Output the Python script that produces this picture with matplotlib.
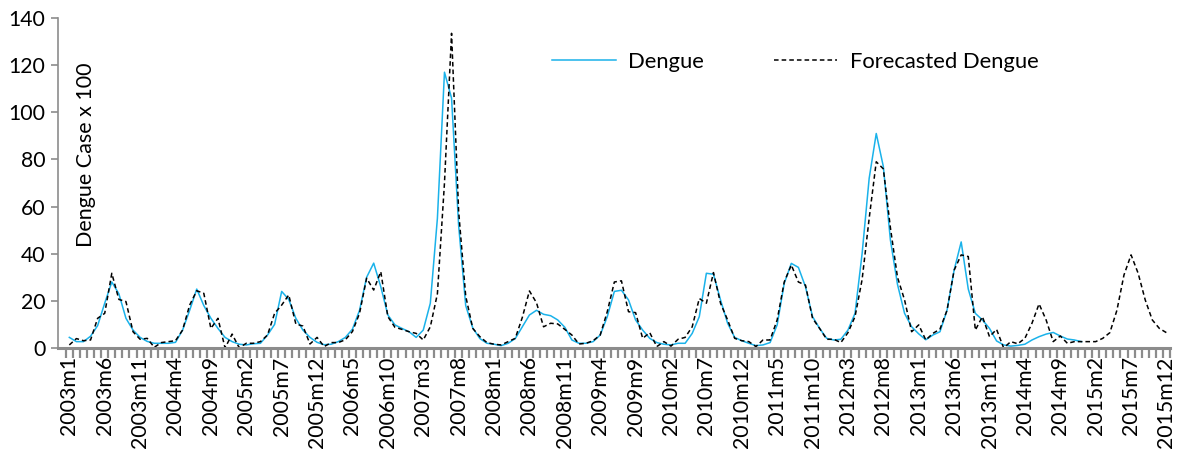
import numpy as np
import matplotlib
matplotlib.use("Agg")
import matplotlib.pyplot as plt

plt.rcParams['font.family'] = ['Lato', 'DejaVu Sans']

# monthly series, 2003m1 .. 2015m12
years = list(range(2003, 2016))
months = [f"{y}m{m}" for y in years for m in range(1, 13)]

# observed dengue cases (x100), 2003m1 .. 2014m12
dengue = [
    4.5, 2.7, 2.7, 5, 9.5, 19, 28, 23, 12.6, 7.6, 4.5, 2.8,
    2, 2, 2, 2.4, 7.6, 16, 25, 18, 12.6, 8.3, 4.5, 2.7,
    1.6, 1.3, 1.8, 2, 5.5, 10, 24, 20.6, 12.6, 7.6, 4.5, 2.4,
    1.4, 1.6, 2.7, 4.5, 8, 16, 30, 36, 26, 14, 9.8, 8.3,
    6.9, 4.5, 7.6, 19, 55, 117, 106, 52, 18, 8.5, 4, 2,
    1.6, 1, 2, 4, 9, 14, 16, 14.3, 13.7, 11.9, 8.8, 3.4,
    2, 2, 2.7, 5.5, 13.3, 24, 24.5, 20.4, 11.9, 7.6, 4.1, 2.3,
    1.6, 1.3, 2, 2, 6.2, 13.3, 31.7, 31.3, 20.4, 10.5, 4.5, 3.1,
    2, 1, 1.3, 2.3, 9.8, 27.4, 35.9, 34.2, 26, 13.3, 8.3, 4.1,
    3.4, 3.7, 7.6, 14.7, 40, 72, 91, 77, 45.8, 27, 14.7, 9,
    6, 3.5, 5.5, 6.9, 16, 33, 45, 25, 14.7, 11.9, 8.3, 3,
    1.3, 0.8, 1.1, 1.6, 3.4, 4.8, 5.9, 6.6, 5.1, 3.8, 3.4, 2.7,
]

# forecasted dengue (x100), 2003m1 .. 2015m12
forecast = [
    1.3, 4, 3.1, 3.4, 12.6, 14.7, 31.7, 20.6, 19.7, 6.9, 3.7, 4.1,
    0.3, 2.3, 2.7, 3.1, 7.6, 18.2, 24.3, 23.2, 8.3, 12.6, 0, 5.9,
    0.1, 2, 2, 2.7, 5.5, 14.7, 18.2, 22.5, 10.2, 9.3, 1.7, 4.5,
    0.6, 2.3, 2.3, 3.5, 7, 14.7, 29.6, 24.6, 32.4, 13.3, 8.8, 7.9,
    6.9, 6.2, 3.4, 9, 23, 70, 133.5, 58, 22, 8.3, 4.8, 2.3,
    1.6, 1.3, 2.7, 4.1, 13, 24.2, 19.2, 9, 10.5, 10.2, 7.9, 5.5,
    1.7, 2, 3.1, 5.5, 15.4, 28, 28.5, 15.4, 15, 4.1, 6.5, 0.6,
    2.7, 0.8, 3.7, 4.5, 9, 21, 19, 32, 19, 11.9, 4.1, 3.1,
    2.7, 0.6, 3.4, 3.4, 11.9, 28, 35.2, 28, 26.7, 12.6, 8.3, 3.7,
    3.7, 2.3, 6.5, 13.3, 29, 55, 79, 76, 51, 30, 20.4, 6.9,
    9.8, 3.4, 6.2, 8, 16, 33, 39.5, 38.8, 7.6, 13.3, 4.8, 7.9,
    0, 2.7, 1.8, 4.1, 10.5, 18.7, 11.9, 2.7, 5.1, 2, 2.7, 2.7,
    2.7, 2.7, 4.1, 6.5, 16, 31, 39.5, 31.7, 20.4, 11.9, 8.3, 6.5,
]

x_all = np.arange(len(months))

fig = plt.figure(figsize=(11.81, 4.57), dpi=100)
ax = fig.add_axes([58 / 1181, 1 - 348 / 457, (1170 - 58) / 1181, 330 / 457])

ax.plot(x_all[:len(dengue)], dengue, color="#1AB2EA", lw=1.1, label="Dengue")
ax.plot(x_all, forecast, color="black", lw=1.1, linestyle=(0, (3, 2)),
        label="Forecasted Dengue")

ax.set_xlim(-1.6, len(months) - 0.5)
ax.set_ylim(0, 140)
ax.set_yticks(range(0, 141, 20))

# labels every 5 months, tick marks between every category
ax.set_xticks(x_all[::5])
ax.set_xticklabels(months[::5], rotation=90)
ax.set_xticks(np.arange(-0.5, len(months), 1), minor=True)
ax.tick_params(axis="x", which="major", length=0, pad=6, labelsize=15.3)
ax.tick_params(axis="x", which="minor", length=7, width=1.6, color="#8c8c8c")
ax.tick_params(axis="y", length=5, width=1.2, color="#8c8c8c", labelsize=15.3, pad=4)

for s in ["top", "right"]:
    ax.spines[s].set_visible(False)
ax.spines["bottom"].set_color("#8c8c8c")
ax.spines["bottom"].set_linewidth(2.2)
ax.spines["left"].set_color("#8c8c8c")
ax.spines["left"].set_linewidth(1.2)

ax.text(0.025, 0.585, "Dengue Case x 100", rotation=90, transform=ax.transAxes,
        ha="center", va="center", fontsize=15.5)

fig.legend(loc="center left", bbox_to_anchor=(552 / 1181, 1 - 62 / 457),
           ncol=2, frameon=False, fontsize=15.8, handlelength=2.9,
           handletextpad=0.55, columnspacing=3.2, borderpad=0, borderaxespad=0)

fig.savefig("out.png", dpi=100)
